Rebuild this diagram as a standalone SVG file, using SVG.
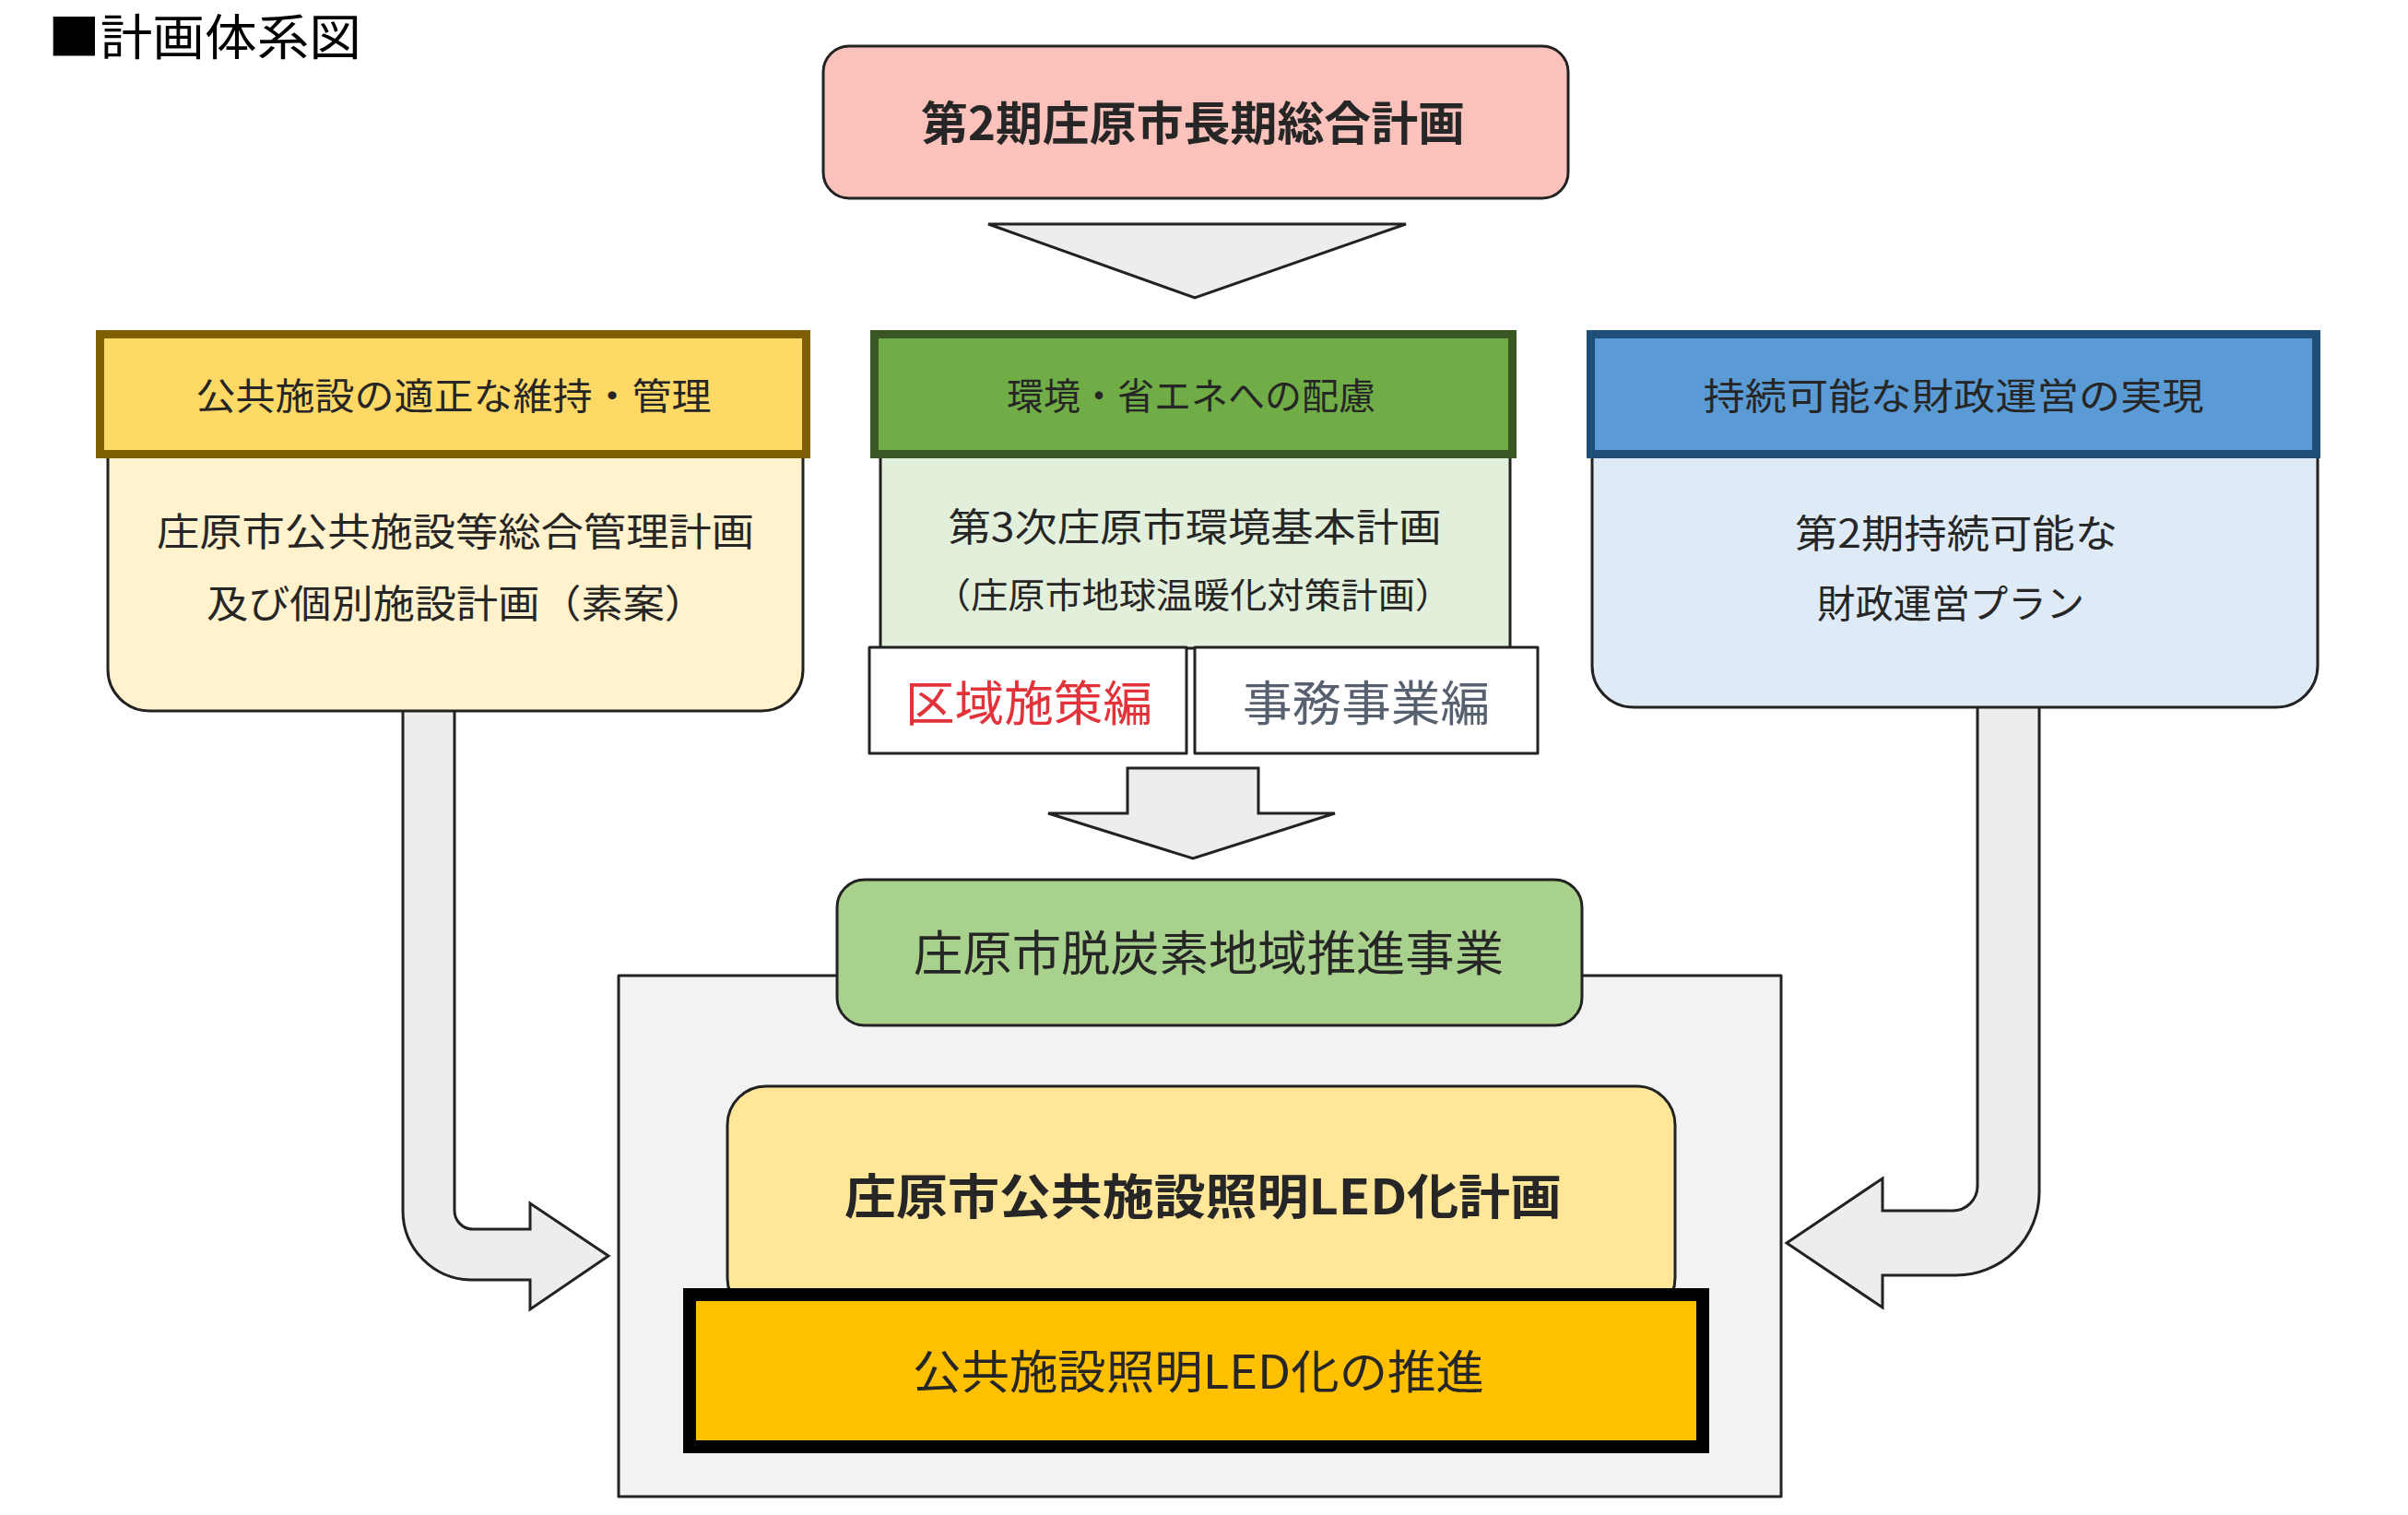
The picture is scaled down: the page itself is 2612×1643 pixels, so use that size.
<svg xmlns="http://www.w3.org/2000/svg" width="2612" height="1643" viewBox="0 0 2612 1643">
<style>
  text { font-family: "Noto Sans CJK JP", "Noto Sans", sans-serif; fill: #262626; text-anchor: middle; }
  .t42 { font-size: 42px; }
  .t40 { font-size: 40px; }
  .ln { stroke: #222; stroke-width: 3; stroke-linejoin: round; }
  .arrow { fill: #EDEDED; stroke: #222; stroke-width: 3; stroke-linejoin: miter; }
</style>
<rect width="2612" height="1643" fill="#FFFFFF"/>

<g id="title">
  <text x="52" y="60" style="font-size:53px;text-anchor:start;fill:#000" textLength="340" lengthAdjust="spacingAndGlyphs">■計画体系図</text>
</g>

<g id="connectors">
  <polygon class="arrow" points="1072,243 1525,243 1296,323"/>
  <polygon class="arrow" points="1223,833 1365,833 1365,882 1448,882 1294,931 1137,882 1223,882"/>
  <path class="arrow" d="M 437 760 L 437 1313 A 75 75 0 0 0 512 1388 L 575 1388 L 575 1420 L 660 1362 L 575 1305 L 575 1333 L 513 1333 A 20 20 0 0 1 493 1313 L 493 760 Z"/>
  <path class="arrow" d="M 2212 760 L 2212 1293 A 90 90 0 0 1 2122 1383 L 2042 1383 L 2042 1418 L 1938 1348 L 2042 1278 L 2042 1313 L 2118 1313 A 27 27 0 0 0 2145 1286 L 2145 760 Z"/>
</g>

<g id="node-top">
  <rect class="ln" x="893" y="50" width="808" height="165" rx="28" fill="#FBC1BB"/>
  <text x="1294" y="152" style="font-size:50px;font-weight:700" textLength="590" lengthAdjust="spacingAndGlyphs">第2期庄原市長期総合計画</text>
</g>

<g id="node-left">
  <path class="ln" d="M 117 480 L 117 726 A 45 45 0 0 0 162 771 L 826 771 A 45 45 0 0 0 871 726 L 871 480 Z" fill="#FFF2CC"/>
  <rect x="108.5" y="362.5" width="766" height="130" fill="#FFD966" stroke="#7F6000" stroke-width="9"/>
  <text class="t40" x="492" y="444" textLength="559" lengthAdjust="spacingAndGlyphs">公共施設の適正な維持・管理</text>
  <text class="t42" x="494" y="592" textLength="648" lengthAdjust="spacingAndGlyphs">庄原市公共施設等総合管理計画</text>
  <text class="t42" x="495" y="670" textLength="542" lengthAdjust="spacingAndGlyphs">及び個別施設計画（素案）</text>
</g>

<g id="node-middle">
  <rect class="ln" x="955" y="480" width="683" height="223" fill="#E2EFDA"/>
  <rect x="948.5" y="362.5" width="692" height="130" fill="#70AD47" stroke="#385723" stroke-width="9"/>
  <text class="t40" x="1292" y="444" textLength="400" lengthAdjust="spacingAndGlyphs">環境・省エネへの配慮</text>
  <text class="t42" x="1296" y="587" textLength="535" lengthAdjust="spacingAndGlyphs">第3次庄原市環境基本計画</text>
  <text x="1294" y="659" style="font-size:38px" textLength="562" lengthAdjust="spacingAndGlyphs">（庄原市地球温暖化対策計画）</text>
</g>

<g id="node-kuiki">
  <rect class="ln" x="943" y="702" width="344" height="115" fill="#FFFFFF"/>
  <text x="1116" y="782" style="font-size:52px;fill:#E2323A" textLength="268" lengthAdjust="spacingAndGlyphs">区域施策編</text>
</g>

<g id="node-jimu">
  <rect class="ln" x="1296" y="702" width="372" height="115" fill="#FFFFFF"/>
  <text x="1482" y="782" style="font-size:52px;fill:#56606E" textLength="268" lengthAdjust="spacingAndGlyphs">事務事業編</text>
</g>

<g id="node-right">
  <path class="ln" d="M 1727 480 L 1727 722 A 45 45 0 0 0 1772 767 L 2469 767 A 45 45 0 0 0 2514 722 L 2514 480 Z" fill="#DEEBF7"/>
  <rect x="1725.5" y="362.5" width="787" height="130" fill="#5B9BD5" stroke="#1F4E79" stroke-width="9"/>
  <text class="t40" x="2119" y="444" textLength="543" lengthAdjust="spacingAndGlyphs">持続可能な財政運営の実現</text>
  <text class="t42" x="2122" y="594" textLength="350" lengthAdjust="spacingAndGlyphs">第2期持続可能な</text>
  <text class="t42" x="2116" y="670" textLength="290" lengthAdjust="spacingAndGlyphs">財政運営プラン</text>
</g>

<g id="node-container">
  <rect class="ln" x="671" y="1058" width="1261" height="565" fill="#F2F2F2"/>
</g>

<g id="node-datsutanso">
  <rect class="ln" x="908" y="954" width="808" height="158" rx="30" fill="#A9D18E"/>
  <text x="1311" y="1053" style="font-size:52px" textLength="640" lengthAdjust="spacingAndGlyphs">庄原市脱炭素地域推進事業</text>
</g>

<g id="node-led-plan">
  <rect class="ln" x="789" y="1178" width="1028" height="250" rx="42" fill="#FFE699"/>
  <text x="1305" y="1317" style="font-size:52px;font-weight:700" textLength="778" lengthAdjust="spacingAndGlyphs">庄原市公共施設照明LED化計画</text>
</g>

<g id="node-led-promo">
  <rect x="748" y="1404" width="1099" height="165" fill="#FFC000" stroke="#000" stroke-width="14"/>
  <text x="1300" y="1506" style="font-size:50px" textLength="620" lengthAdjust="spacingAndGlyphs">公共施設照明LED化の推進</text>
</g>
</svg>
